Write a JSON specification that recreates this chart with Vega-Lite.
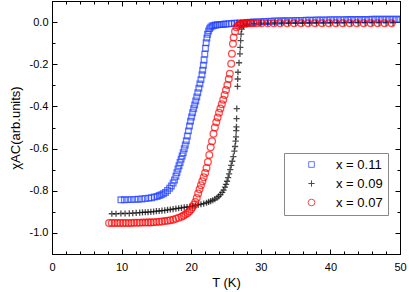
{
  "$schema": "https://vega.github.io/schema/vega-lite/v6.json",
  "width": 348,
  "height": 253,
  "autosize": {"type": "none"},
  "padding": {"left": 52, "top": 1, "right": 9, "bottom": 38},
  "background": "white",
  "config": {
    "view": {"stroke": "#000", "strokeWidth": 1},
    "font": "Liberation Sans",
    "axis": {"grid": false, "domainColor": "#000", "tickColor": "#000", "labelColor": "#000", "titleColor": "#000", "labelFont": "Liberation Sans", "titleFont": "Liberation Sans", "titleFontWeight": "normal", "labelFontSize": 11, "titleFontSize": 13}
  },
  "data": {"values": [
    {"series":"x = 0.11","T":9.9,"chi":-0.843},{"series":"x = 0.11","T":10.4,"chi":-0.843},{"series":"x = 0.11","T":10.9,"chi":-0.842},{"series":"x = 0.11","T":11.4,"chi":-0.842},{"series":"x = 0.11","T":11.9,"chi":-0.841},{"series":"x = 0.11","T":12.4,"chi":-0.840},{"series":"x = 0.11","T":12.9,"chi":-0.839},{"series":"x = 0.11","T":13.4,"chi":-0.837},{"series":"x = 0.11","T":13.9,"chi":-0.835},{"series":"x = 0.11","T":14.3,"chi":-0.833},{"series":"x = 0.11","T":14.7,"chi":-0.830},{"series":"x = 0.11","T":15.1,"chi":-0.827},{"series":"x = 0.11","T":15.4,"chi":-0.823},{"series":"x = 0.11","T":15.7,"chi":-0.819},{"series":"x = 0.11","T":16.0,"chi":-0.814},{"series":"x = 0.11","T":16.3,"chi":-0.808},{"series":"x = 0.11","T":16.6,"chi":-0.799},{"series":"x = 0.11","T":16.9,"chi":-0.788},{"series":"x = 0.11","T":17.15,"chi":-0.777},{"series":"x = 0.11","T":17.4,"chi":-0.763},{"series":"x = 0.11","T":17.6,"chi":-0.749},{"series":"x = 0.11","T":17.8,"chi":-0.731},{"series":"x = 0.11","T":17.95,"chi":-0.714},{"series":"x = 0.11","T":18.1,"chi":-0.697},{"series":"x = 0.11","T":18.25,"chi":-0.681},{"series":"x = 0.11","T":18.4,"chi":-0.666},{"series":"x = 0.11","T":18.55,"chi":-0.650},{"series":"x = 0.11","T":18.7,"chi":-0.635},{"series":"x = 0.11","T":18.85,"chi":-0.620},{"series":"x = 0.11","T":19.0,"chi":-0.601},{"series":"x = 0.11","T":19.15,"chi":-0.583},{"series":"x = 0.11","T":19.3,"chi":-0.563},{"series":"x = 0.11","T":19.45,"chi":-0.540},{"series":"x = 0.11","T":19.6,"chi":-0.516},{"series":"x = 0.11","T":19.75,"chi":-0.493},{"series":"x = 0.11","T":19.9,"chi":-0.470},{"series":"x = 0.11","T":20.05,"chi":-0.450},{"series":"x = 0.11","T":20.2,"chi":-0.430},{"series":"x = 0.11","T":20.35,"chi":-0.411},{"series":"x = 0.11","T":20.5,"chi":-0.393},{"series":"x = 0.11","T":20.65,"chi":-0.374},{"series":"x = 0.11","T":20.8,"chi":-0.355},{"series":"x = 0.11","T":20.95,"chi":-0.335},{"series":"x = 0.11","T":21.1,"chi":-0.314},{"series":"x = 0.11","T":21.25,"chi":-0.293},{"series":"x = 0.11","T":21.4,"chi":-0.273},{"series":"x = 0.11","T":21.55,"chi":-0.250},{"series":"x = 0.11","T":21.65,"chi":-0.228},{"series":"x = 0.11","T":21.75,"chi":-0.205},{"series":"x = 0.11","T":21.85,"chi":-0.180},{"series":"x = 0.11","T":21.95,"chi":-0.152},{"series":"x = 0.11","T":22.05,"chi":-0.124},{"series":"x = 0.11","T":22.15,"chi":-0.098},{"series":"x = 0.11","T":22.25,"chi":-0.076},{"series":"x = 0.11","T":22.35,"chi":-0.058},{"series":"x = 0.11","T":22.5,"chi":-0.042},{"series":"x = 0.11","T":22.65,"chi":-0.031},{"series":"x = 0.11","T":22.8,"chi":-0.024},{"series":"x = 0.11","T":23.0,"chi":-0.019},{"series":"x = 0.11","T":23.25,"chi":-0.016},{"series":"x = 0.11","T":23.5,"chi":-0.014},{"series":"x = 0.11","T":23.8,"chi":-0.013},{"series":"x = 0.11","T":24.1,"chi":-0.012},{"series":"x = 0.11","T":24.4,"chi":-0.011},{"series":"x = 0.11","T":24.7,"chi":-0.010},{"series":"x = 0.11","T":25.0,"chi":-0.009},{"series":"x = 0.11","T":25.4,"chi":-0.008},{"series":"x = 0.11","T":25.8,"chi":-0.007},{"series":"x = 0.11","T":26.2,"chi":-0.006},{"series":"x = 0.11","T":26.6,"chi":-0.005},{"series":"x = 0.11","T":27.0,"chi":-0.004},{"series":"x = 0.11","T":27.5,"chi":-0.003},{"series":"x = 0.11","T":28.0,"chi":-0.002},{"series":"x = 0.11","T":28.5,"chi":-0.001},{"series":"x = 0.11","T":29.0,"chi":0.0},{"series":"x = 0.11","T":29.5,"chi":0.001},{"series":"x = 0.11","T":30.0,"chi":0.002},{"series":"x = 0.11","T":30.5,"chi":0.003},{"series":"x = 0.11","T":31.0,"chi":0.003},{"series":"x = 0.11","T":31.5,"chi":0.004},{"series":"x = 0.11","T":32.0,"chi":0.005},{"series":"x = 0.11","T":32.5,"chi":0.005},{"series":"x = 0.11","T":33.0,"chi":0.006},{"series":"x = 0.11","T":33.5,"chi":0.006},{"series":"x = 0.11","T":34.0,"chi":0.007},{"series":"x = 0.11","T":34.5,"chi":0.007},{"series":"x = 0.11","T":35.0,"chi":0.008},{"series":"x = 0.11","T":35.5,"chi":0.008},{"series":"x = 0.11","T":36.0,"chi":0.008},{"series":"x = 0.11","T":36.5,"chi":0.009},{"series":"x = 0.11","T":37.0,"chi":0.009},{"series":"x = 0.11","T":37.5,"chi":0.009},{"series":"x = 0.11","T":38.0,"chi":0.010},{"series":"x = 0.11","T":38.5,"chi":0.010},{"series":"x = 0.11","T":39.0,"chi":0.010},{"series":"x = 0.11","T":39.5,"chi":0.010},{"series":"x = 0.11","T":40.0,"chi":0.011},{"series":"x = 0.11","T":40.5,"chi":0.011},{"series":"x = 0.11","T":41.0,"chi":0.011},{"series":"x = 0.11","T":41.5,"chi":0.011},{"series":"x = 0.11","T":42.0,"chi":0.011},{"series":"x = 0.11","T":42.5,"chi":0.012},{"series":"x = 0.11","T":43.0,"chi":0.012},{"series":"x = 0.11","T":43.5,"chi":0.012},{"series":"x = 0.11","T":44.0,"chi":0.012},{"series":"x = 0.11","T":44.5,"chi":0.012},{"series":"x = 0.11","T":45.0,"chi":0.012},{"series":"x = 0.11","T":45.5,"chi":0.012},{"series":"x = 0.11","T":46.0,"chi":0.013},{"series":"x = 0.11","T":46.5,"chi":0.013},{"series":"x = 0.11","T":47.0,"chi":0.013},{"series":"x = 0.11","T":47.5,"chi":0.013},{"series":"x = 0.11","T":48.0,"chi":0.013},{"series":"x = 0.11","T":48.5,"chi":0.013},{"series":"x = 0.11","T":49.0,"chi":0.013},{"series":"x = 0.11","T":49.5,"chi":0.013},{"series":"x = 0.11","T":50.0,"chi":0.013},
    {"series":"x = 0.09","T":8.6,"chi":-0.909},{"series":"x = 0.09","T":9.2,"chi":-0.909},{"series":"x = 0.09","T":9.9,"chi":-0.908},{"series":"x = 0.09","T":10.5,"chi":-0.908},{"series":"x = 0.09","T":11.1,"chi":-0.907},{"series":"x = 0.09","T":11.6,"chi":-0.906},{"series":"x = 0.09","T":12.1,"chi":-0.905},{"series":"x = 0.09","T":12.6,"chi":-0.904},{"series":"x = 0.09","T":13.0,"chi":-0.903},{"series":"x = 0.09","T":13.4,"chi":-0.902},{"series":"x = 0.09","T":13.8,"chi":-0.901},{"series":"x = 0.09","T":14.2,"chi":-0.900},{"series":"x = 0.09","T":14.6,"chi":-0.899},{"series":"x = 0.09","T":15.0,"chi":-0.897},{"series":"x = 0.09","T":15.4,"chi":-0.896},{"series":"x = 0.09","T":15.8,"chi":-0.894},{"series":"x = 0.09","T":16.2,"chi":-0.893},{"series":"x = 0.09","T":16.6,"chi":-0.891},{"series":"x = 0.09","T":17.0,"chi":-0.889},{"series":"x = 0.09","T":17.4,"chi":-0.887},{"series":"x = 0.09","T":17.8,"chi":-0.885},{"series":"x = 0.09","T":18.2,"chi":-0.883},{"series":"x = 0.09","T":18.6,"chi":-0.881},{"series":"x = 0.09","T":19.0,"chi":-0.879},{"series":"x = 0.09","T":19.4,"chi":-0.877},{"series":"x = 0.09","T":19.8,"chi":-0.875},{"series":"x = 0.09","T":20.2,"chi":-0.873},{"series":"x = 0.09","T":20.6,"chi":-0.870},{"series":"x = 0.09","T":21.0,"chi":-0.867},{"series":"x = 0.09","T":21.4,"chi":-0.864},{"series":"x = 0.09","T":21.8,"chi":-0.861},{"series":"x = 0.09","T":22.2,"chi":-0.857},{"series":"x = 0.09","T":22.5,"chi":-0.853},{"series":"x = 0.09","T":22.8,"chi":-0.849},{"series":"x = 0.09","T":23.1,"chi":-0.845},{"series":"x = 0.09","T":23.4,"chi":-0.840},{"series":"x = 0.09","T":23.7,"chi":-0.834},{"series":"x = 0.09","T":23.95,"chi":-0.827},{"series":"x = 0.09","T":24.2,"chi":-0.818},{"series":"x = 0.09","T":24.45,"chi":-0.808},{"series":"x = 0.09","T":24.65,"chi":-0.797},{"series":"x = 0.09","T":24.85,"chi":-0.783},{"series":"x = 0.09","T":25.0,"chi":-0.770},{"series":"x = 0.09","T":25.15,"chi":-0.755},{"series":"x = 0.09","T":25.3,"chi":-0.738},{"series":"x = 0.09","T":25.45,"chi":-0.720},{"series":"x = 0.09","T":25.6,"chi":-0.700},{"series":"x = 0.09","T":25.75,"chi":-0.680},{"series":"x = 0.09","T":25.9,"chi":-0.660},{"series":"x = 0.09","T":26.05,"chi":-0.638},{"series":"x = 0.09","T":26.2,"chi":-0.612},{"series":"x = 0.09","T":26.3,"chi":-0.590},{"series":"x = 0.09","T":26.38,"chi":-0.565},{"series":"x = 0.09","T":26.44,"chi":-0.544},{"series":"x = 0.09","T":26.47,"chi":-0.515},{"series":"x = 0.09","T":26.5,"chi":-0.497},{"series":"x = 0.09","T":26.52,"chi":-0.458},{"series":"x = 0.09","T":26.55,"chi":-0.410},{"series":"x = 0.09","T":26.65,"chi":-0.305},{"series":"x = 0.09","T":26.68,"chi":-0.270},{"series":"x = 0.09","T":26.72,"chi":-0.238},{"series":"x = 0.09","T":26.87,"chi":-0.193},{"series":"x = 0.09","T":27.0,"chi":-0.151},{"series":"x = 0.09","T":27.05,"chi":-0.120},{"series":"x = 0.09","T":27.1,"chi":-0.088},{"series":"x = 0.09","T":27.17,"chi":-0.057},{"series":"x = 0.09","T":27.26,"chi":-0.033},{"series":"x = 0.09","T":27.5,"chi":-0.018},{"series":"x = 0.09","T":28.0,"chi":-0.010},{"series":"x = 0.09","T":29.0,"chi":-0.006},{"series":"x = 0.09","T":30.0,"chi":-0.005},{"series":"x = 0.09","T":31.0,"chi":-0.005},{"series":"x = 0.09","T":32.0,"chi":-0.004},{"series":"x = 0.09","T":33.0,"chi":-0.004},{"series":"x = 0.09","T":34.0,"chi":-0.004},{"series":"x = 0.09","T":35.0,"chi":-0.004},{"series":"x = 0.09","T":36.0,"chi":-0.004},{"series":"x = 0.09","T":37.0,"chi":-0.004},{"series":"x = 0.09","T":38.0,"chi":-0.004},{"series":"x = 0.09","T":39.0,"chi":-0.004},{"series":"x = 0.09","T":40.0,"chi":-0.004},{"series":"x = 0.09","T":41.0,"chi":-0.004},{"series":"x = 0.09","T":42.0,"chi":-0.004},{"series":"x = 0.09","T":43.0,"chi":-0.004},{"series":"x = 0.09","T":44.0,"chi":-0.004},{"series":"x = 0.09","T":45.0,"chi":-0.004},{"series":"x = 0.09","T":46.0,"chi":-0.004},{"series":"x = 0.09","T":47.0,"chi":-0.004},{"series":"x = 0.09","T":48.0,"chi":-0.004},{"series":"x = 0.09","T":49.0,"chi":-0.004},
    {"series":"x = 0.07","T":8.2,"chi":-0.953},{"series":"x = 0.07","T":8.6,"chi":-0.953},{"series":"x = 0.07","T":9.0,"chi":-0.953},{"series":"x = 0.07","T":9.4,"chi":-0.953},{"series":"x = 0.07","T":9.8,"chi":-0.953},{"series":"x = 0.07","T":10.2,"chi":-0.953},{"series":"x = 0.07","T":10.6,"chi":-0.953},{"series":"x = 0.07","T":11.0,"chi":-0.953},{"series":"x = 0.07","T":11.4,"chi":-0.953},{"series":"x = 0.07","T":11.8,"chi":-0.952},{"series":"x = 0.07","T":12.2,"chi":-0.952},{"series":"x = 0.07","T":12.6,"chi":-0.952},{"series":"x = 0.07","T":13.0,"chi":-0.951},{"series":"x = 0.07","T":13.4,"chi":-0.951},{"series":"x = 0.07","T":13.8,"chi":-0.950},{"series":"x = 0.07","T":14.2,"chi":-0.950},{"series":"x = 0.07","T":14.6,"chi":-0.949},{"series":"x = 0.07","T":15.0,"chi":-0.948},{"series":"x = 0.07","T":15.4,"chi":-0.947},{"series":"x = 0.07","T":15.8,"chi":-0.946},{"series":"x = 0.07","T":16.2,"chi":-0.944},{"series":"x = 0.07","T":16.6,"chi":-0.942},{"series":"x = 0.07","T":17.0,"chi":-0.940},{"series":"x = 0.07","T":17.4,"chi":-0.937},{"series":"x = 0.07","T":17.8,"chi":-0.933},{"series":"x = 0.07","T":18.2,"chi":-0.928},{"series":"x = 0.07","T":18.6,"chi":-0.923},{"series":"x = 0.07","T":18.9,"chi":-0.918},{"series":"x = 0.07","T":19.2,"chi":-0.912},{"series":"x = 0.07","T":19.5,"chi":-0.905},{"series":"x = 0.07","T":19.75,"chi":-0.897},{"series":"x = 0.07","T":20.0,"chi":-0.888},{"series":"x = 0.07","T":20.2,"chi":-0.877},{"series":"x = 0.07","T":20.4,"chi":-0.866},{"series":"x = 0.07","T":20.6,"chi":-0.853},{"series":"x = 0.07","T":20.8,"chi":-0.834},{"series":"x = 0.07","T":21.0,"chi":-0.813},{"series":"x = 0.07","T":21.2,"chi":-0.793},{"series":"x = 0.07","T":21.4,"chi":-0.774},{"series":"x = 0.07","T":21.6,"chi":-0.755},{"series":"x = 0.07","T":21.8,"chi":-0.736},{"series":"x = 0.07","T":22.0,"chi":-0.716},{"series":"x = 0.07","T":22.2,"chi":-0.692},{"series":"x = 0.07","T":22.4,"chi":-0.664},{"series":"x = 0.07","T":22.6,"chi":-0.630},{"series":"x = 0.07","T":22.8,"chi":-0.594},{"series":"x = 0.07","T":23.0,"chi":-0.565},{"series":"x = 0.07","T":23.2,"chi":-0.530},{"series":"x = 0.07","T":23.4,"chi":-0.500},{"series":"x = 0.07","T":23.6,"chi":-0.475},{"series":"x = 0.07","T":23.8,"chi":-0.452},{"series":"x = 0.07","T":24.0,"chi":-0.430},{"series":"x = 0.07","T":24.2,"chi":-0.410},{"series":"x = 0.07","T":24.4,"chi":-0.390},{"series":"x = 0.07","T":24.6,"chi":-0.368},{"series":"x = 0.07","T":24.8,"chi":-0.346},{"series":"x = 0.07","T":25.0,"chi":-0.322},{"series":"x = 0.07","T":25.2,"chi":-0.298},{"series":"x = 0.07","T":25.4,"chi":-0.270},{"series":"x = 0.07","T":25.55,"chi":-0.245},{"series":"x = 0.07","T":25.75,"chi":-0.198},{"series":"x = 0.07","T":25.85,"chi":-0.150},{"series":"x = 0.07","T":26.0,"chi":-0.103},{"series":"x = 0.07","T":26.1,"chi":-0.073},{"series":"x = 0.07","T":26.3,"chi":-0.045},{"series":"x = 0.07","T":26.5,"chi":-0.025},{"series":"x = 0.07","T":26.7,"chi":-0.016},{"series":"x = 0.07","T":26.9,"chi":-0.012},{"series":"x = 0.07","T":27.1,"chi":-0.010},{"series":"x = 0.07","T":27.3,"chi":-0.009},{"series":"x = 0.07","T":27.5,"chi":-0.008},{"series":"x = 0.07","T":27.7,"chi":-0.007},{"series":"x = 0.07","T":27.9,"chi":-0.007},{"series":"x = 0.07","T":28.2,"chi":-0.006},{"series":"x = 0.07","T":28.5,"chi":-0.006},{"series":"x = 0.07","T":28.9,"chi":-0.005},{"series":"x = 0.07","T":29.4,"chi":-0.005},{"series":"x = 0.07","T":30.1,"chi":-0.005},{"series":"x = 0.07","T":31.0,"chi":-0.005},{"series":"x = 0.07","T":31.9,"chi":-0.005},{"series":"x = 0.07","T":32.8,"chi":-0.005},{"series":"x = 0.07","T":33.8,"chi":-0.005},{"series":"x = 0.07","T":34.8,"chi":-0.005},{"series":"x = 0.07","T":35.8,"chi":-0.005},{"series":"x = 0.07","T":36.8,"chi":-0.005},{"series":"x = 0.07","T":37.8,"chi":-0.005},{"series":"x = 0.07","T":38.8,"chi":-0.005},{"series":"x = 0.07","T":39.8,"chi":-0.005},{"series":"x = 0.07","T":40.8,"chi":-0.005},{"series":"x = 0.07","T":41.8,"chi":-0.005},{"series":"x = 0.07","T":42.8,"chi":-0.005},{"series":"x = 0.07","T":43.8,"chi":-0.005},{"series":"x = 0.07","T":44.8,"chi":-0.005},{"series":"x = 0.07","T":45.8,"chi":-0.005},{"series":"x = 0.07","T":46.8,"chi":-0.005},{"series":"x = 0.07","T":47.8,"chi":-0.005},{"series":"x = 0.07","T":48.8,"chi":-0.005}
  ]},
  "layer": [
    {
      "mark": {"type": "point", "filled": false, "strokeWidth": 1.3, "clip": true},
      "encoding": {
        "x": {"field": "T", "type": "quantitative", "scale": {"domain": [0, 50], "nice": false, "zero": false},
          "axis": {"orient": "bottom", "title": "T (K)", "values": [0,2,4,6,8,10,12,14,16,18,20,22,24,26,28,30,32,34,36,38,40,42,44,46,48,50],
            "labelExpr": "datum.value % 10 === 0 ? datum.label : ''", "tickSize": {"condition": {"test": "datum.value % 10 === 0", "value": -5}, "value": -3}, "labelPadding": 12, "titlePadding": 4, "labelFlush": false, "labelFontSize": 11, "titleFontSize": 13}},
        "y": {"field": "chi", "type": "quantitative", "scale": {"domain": [-1.1, 0.1], "nice": false, "zero": false},
          "axis": {"orient": "left", "title": "χAC(arb.units)", "values": [-1.1,-1.0,-0.9,-0.8,-0.7,-0.6,-0.5,-0.4,-0.3,-0.2,-0.1,0.0,0.1],
            "labelExpr": "round(datum.value*10) % 2 === 0 ? replace(format(datum.value, '.1f'), '\u2212', '-') : ''", "tickSize": {"condition": {"test": "round(datum.value*10) % 2 === 0", "value": -5}, "value": -3}, "labelPadding": 9, "titlePadding": 7, "labelFlush": false}},
        "color": {"field": "series", "type": "nominal", "scale": {"domain": ["x = 0.11", "x = 0.09", "x = 0.07"], "range": ["#1f3fff", "#000000", "#ff0000"]},
          "legend": {"title": null, "orient": "none", "legendX": 232, "legendY": 152, "strokeColor": "#888", "fillColor": "white", "padding": 5, "symbolSize": 25, "symbolOffset": 16, "labelOffset": 18, "labelFontSize": 13, "labelFont": "Liberation Sans", "labelColor": "#000", "rowPadding": 5, "symbolStrokeWidth": 1}},
        "shape": {"field": "series", "type": "nominal", "scale": {"domain": ["x = 0.11", "x = 0.09", "x = 0.07"], "range": ["square", "M-1,0H1M0,-1V1", "circle"]}},
        "size": {"field": "series", "type": "nominal", "scale": {"domain": ["x = 0.11", "x = 0.09", "x = 0.07"], "range": [32, 45, 36]}, "legend": null}
      }
    },
    {
      "mark": {"type": "point", "opacity": 0},
      "encoding": {
        "x": {"field": "T", "type": "quantitative", "axis": {"orient": "top", "title": null, "labels": false, "values": [0,2,4,6,8,10,12,14,16,18,20,22,24,26,28,30,32,34,36,38,40,42,44,46,48,50], "tickSize": {"condition": {"test": "datum.value % 10 === 0", "value": -5}, "value": -3}}},
        "y": {"field": "chi", "type": "quantitative", "axis": {"orient": "right", "title": null, "labels": false, "values": [-1.1,-1.0,-0.9,-0.8,-0.7,-0.6,-0.5,-0.4,-0.3,-0.2,-0.1,0.0,0.1], "tickSize": {"condition": {"test": "round(datum.value*10) % 2 === 0", "value": -5}, "value": -3}}}
      }
    }
  ],
  "resolve": {"axis": {"x": "independent", "y": "independent"}}
}
